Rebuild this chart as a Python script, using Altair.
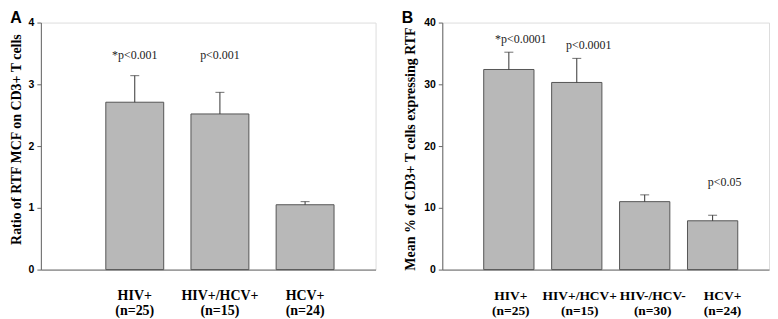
import altair as alt
import pandas as pd

# ---- Panel A data ----
groups_a = ["HIV+", "HIV+/HCV+", "HCV+"]
n_a = ["(n=25)", "(n=15)", "(n=24)"]
ratio_a = [2.71, 2.52, 1.05]
err_a = [0.43, 0.35, 0.05]
pval_a = ["*p<0.001", "p<0.001", ""]
pval_y_a = [3.48, 3.48, 0.0]

# ---- Panel B data ----
groups_b = ["HIV+", "HIV+/HCV+", "HIV-/HCV-", "HCV+"]
n_b = ["(n=25)", "(n=15)", "(n=30)", "(n=24)"]
pct_b = [32.4, 30.3, 11.0, 7.9]
err_b = [2.8, 3.9, 1.1, 0.9]
pval_b = ["*p<0.0001", "p<0.0001", "", "p<0.05"]
pval_y_b = [37.3, 36.4, 0.0, 14.1]

SERIF = "Liberation Serif"
SANS = "Liberation Sans"
BAR_FILL = "#b8b8b8"
BAR_STROKE = "#555555"
AXIS_COLOR = "#666666"

# small horizontal nudges of the category labels (style only)
LABEL_NUDGE_B = [2, 3, 8, 10]


def make_df(groups, ns, vals, errs, pv, pvy):
    return pd.DataFrame({
        "cat": [g + "|" + n for g, n in zip(groups, ns)],
        "value": vals,
        "top": [v + e for v, e in zip(vals, errs)],
        "ptext": pv,
        "py": pvy,
    })


def panel(df, ymax, yvals, ytitle, title_y, title_size, letter, letter_dx,
          pad_inner, pad_outer, align, width, text_dx, ytitle_pad, cat_size,
          nudge=None):
    order = list(df["cat"])
    xscale = alt.Scale(domain=order, paddingInner=pad_inner,
                       paddingOuter=pad_outer, align=align)
    yscale = alt.Scale(domain=[0, ymax], nice=False)
    axis_kw = dict(labelExpr="split(datum.label, '|')",
                   labelAngle=0, ticks=False,
                   labelFont=SERIF, labelFontWeight="bold",
                   labelFontSize=cat_size, labelColor="black",
                   labelLineHeight=15, labelPadding=19,
                   domainColor=AXIS_COLOR, labelLimit=200)
    if nudge is not None:
        conds = [{"test": "datum.value === " + repr(c), "value": d}
                 for c, d in zip(order, nudge)]
        axis_kw["labelOffset"] = {"condition": conds, "value": 0}
    xenc = alt.X("cat:N", sort=order, scale=xscale, title=None,
                 axis=alt.Axis(**axis_kw))
    yaxis = alt.Axis(values=yvals, format="d", title=ytitle, titleFont=SERIF,
                     titleFontWeight="bold", titleFontSize=title_size,
                     titleColor="black", titleY=title_y,
                     titlePadding=ytitle_pad,
                     labelFont=SANS, labelFontWeight="bold", labelFontSize=10.5,
                     labelColor="black", labelPadding=3, tickSize=4,
                     tickColor=AXIS_COLOR, domainColor=AXIS_COLOR, grid=False)
    base = alt.Chart(df)
    bars = base.mark_bar(fill=BAR_FILL, stroke=BAR_STROKE, strokeWidth=1).encode(
        x=xenc, y=alt.Y("value:Q", scale=yscale, axis=yaxis))
    err = base.mark_rule(color="#333333", strokeWidth=1).encode(
        x=alt.X("cat:N", sort=order, scale=xscale), y=alt.Y("value:Q"),
        y2="top:Q")
    cap = base.mark_tick(color="#333333", thickness=1, size=9,
                         orient="horizontal").encode(
        x=alt.X("cat:N", sort=order, scale=xscale), y=alt.Y("top:Q"))
    txt = base.transform_filter("datum.ptext != ''").mark_text(
        font=SERIF, fontSize=12, color="#222222", dx=text_dx,
        baseline="middle").encode(
        x=alt.X("cat:N", sort=order, scale=xscale), y=alt.Y("py:Q"),
        text="ptext:N")
    return alt.layer(bars, err, cap, txt).properties(
        width=width, height=248,
        title=alt.TitleParams(letter, anchor="start", frame="bounds",
                              font=SANS, fontWeight="bold", fontSize=16,
                              color="black", dx=letter_dx, offset=-8))


df_a = make_df(groups_a, n_a, ratio_a, err_a, pval_a, pval_y_a)
df_b = make_df(groups_b, n_b, pct_b, err_b, pval_b, pval_y_b)

chart_a = panel(df_a, 4, [0, 1, 2, 3, 4], "Ratio of RTF MCF on CD3+ T cells",
                117, 14, "A", 1, 0.32, 0.625, 0.61, 336, 0, 5, 14)
chart_b = panel(df_b, 40, [0, 10, 20, 30, 40],
                "Mean  % of CD3+ T cells expressing RTF",
                126.5, 14, "B", -2, 0.26, 0.535, 0.57, 328, 12, 6, 13.5,
                nudge=LABEL_NUDGE_B)

chart = alt.hconcat(chart_a, chart_b, spacing=24).properties(
    padding={"left": 0, "top": 0, "right": 0, "bottom": 0}
).configure_view(stroke=None).configure(background="white")

chart.save("out.html", embed_options={"renderer": "svg", "actions": False})
